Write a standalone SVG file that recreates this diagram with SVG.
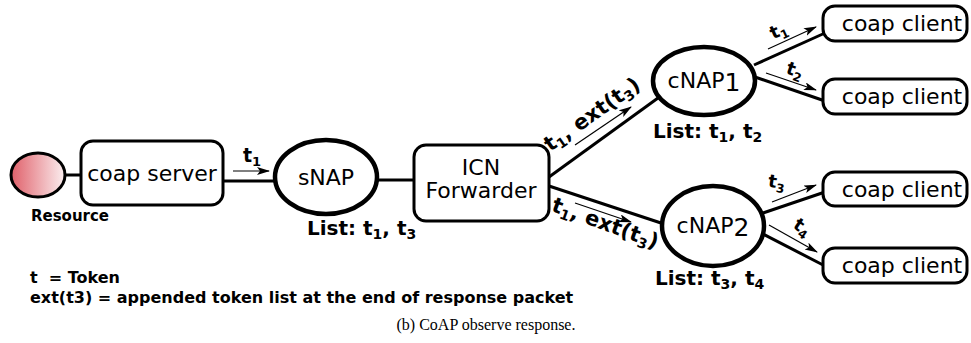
<svg xmlns="http://www.w3.org/2000/svg" width="971" height="343" viewBox="0 0 971 343">
<style>
.box{fill:#fff;stroke:#000;stroke-width:3}
.ell{fill:#fff;stroke:#000;stroke-width:4.5}
.lbl{font-family:"DejaVu Sans",sans-serif;font-size:22px;fill:#000;text-anchor:middle}
.b{font-family:"DejaVu Sans",sans-serif;font-weight:bold;fill:#000}
.conn line{stroke:#000;stroke-width:3}
.arr line{stroke:#000;stroke-width:1.2;marker-end:url(#ah)}
</style>
<defs>
<linearGradient id="rg" x1="0" y1="0" x2="1" y2="0">
<stop offset="0" stop-color="#e0606a"/>
<stop offset="1" stop-color="#fbeff0"/>
</linearGradient>
<marker id="ah" markerUnits="userSpaceOnUse" markerWidth="14" markerHeight="10" refX="12" refY="4" orient="auto">
<path d="M0,0 L13,4 L0,8 L3,4 z" fill="#000"/>
</marker>
</defs>
<rect width="971" height="343" fill="#fff"/>
<g class="conn">
<line x1="65" y1="175" x2="81" y2="175"/>
<line x1="223" y1="181" x2="275" y2="181"/>
<line x1="377" y1="180" x2="414" y2="180"/>
<line x1="549" y1="177" x2="658" y2="98"/>
<line x1="549" y1="186" x2="661" y2="223"/>
<line x1="754" y1="65" x2="825" y2="33"/>
<line x1="755" y1="77" x2="825" y2="101"/>
<line x1="763" y1="213" x2="825" y2="192"/>
<line x1="761" y1="233" x2="825" y2="266"/>
</g>
<g class="arr">
<line x1="233" y1="171" x2="269" y2="171"/>
<line x1="575" y1="145" x2="631" y2="107"/>
<line x1="575" y1="203" x2="631" y2="222"/>
<line x1="768" y1="49" x2="816" y2="27"/>
<line x1="766" y1="73" x2="816" y2="90"/>
<line x1="772" y1="202" x2="816" y2="185"/>
<line x1="769" y1="225" x2="817" y2="252"/>
</g>
<g id="resource">
<ellipse cx="38" cy="175" rx="27" ry="22" fill="url(#rg)" stroke="#000" stroke-width="3"/>
<text class="b" x="70" y="221" font-size="15" text-anchor="middle">Resource</text>
</g>
<g id="coap-server">
<rect class="box" x="81" y="141" width="142" height="64" rx="12"/>
<text class="lbl" x="152" y="181">coap server</text>
</g>
<g id="snap">
<ellipse class="ell" cx="326" cy="177" rx="51" ry="37"/>
<text class="lbl" x="326" y="185">sNAP</text>
<text class="b" x="307" y="235" font-size="20">List: t<tspan font-size="14" dy="4">1</tspan><tspan dy="-4">, t</tspan><tspan font-size="14" dy="4">3</tspan></text>
</g>
<g id="icn-forwarder">
<rect class="box" x="414" y="145" width="135" height="76" rx="12"/>
<text class="lbl" x="481" y="175">ICN</text>
<text class="lbl" x="481" y="198">Forwarder</text>
</g>
<g id="cnap1">
<ellipse class="ell" cx="704" cy="81" rx="51" ry="34"/>
<text class="lbl" x="704" y="88">cNAP<tspan font-size="25" dy="3">1</tspan></text>
<text class="b" x="653" y="138" font-size="20">List: t<tspan font-size="14" dy="4">1</tspan><tspan dy="-4">, t</tspan><tspan font-size="14" dy="4">2</tspan></text>
</g>
<g id="cnap2">
<ellipse class="ell" cx="713" cy="226" rx="51" ry="40"/>
<text class="lbl" x="713" y="233">cNAP<tspan font-size="25" dy="3">2</tspan></text>
<text class="b" x="655" y="285" font-size="20">List: t<tspan font-size="14" dy="4">3</tspan><tspan dy="-4">, t</tspan><tspan font-size="14" dy="4">4</tspan></text>
</g>
<g id="client1">
<rect class="box" x="823" y="6" width="144" height="35" rx="12"/>
<text class="lbl" x="902" y="31">coap client</text>
</g>
<g id="client2">
<rect class="box" x="823" y="79" width="144" height="35" rx="12"/>
<text class="lbl" x="902" y="104">coap client</text>
</g>
<g id="client3">
<rect class="box" x="823" y="172" width="144" height="34" rx="12"/>
<text class="lbl" x="902" y="197">coap client</text>
</g>
<g id="client4">
<rect class="box" x="823" y="248" width="144" height="35" rx="12"/>
<text class="lbl" x="902" y="273">coap client</text>
</g>
<g id="edge-labels">
<text class="b" x="243" y="162" font-size="19">t<tspan font-size="13" dy="4">1</tspan></text>
<text class="b" font-size="21" text-anchor="middle" transform="translate(596,120) rotate(-35)">t<tspan font-size="14" dy="4">1</tspan><tspan dy="-4">, ext(t</tspan><tspan font-size="14" dy="4">3</tspan><tspan dy="-4">)</tspan></text>
<text class="b" font-size="21" text-anchor="middle" transform="translate(603,230) rotate(20)">t<tspan font-size="14" dy="4">1</tspan><tspan dy="-4">, ext(t</tspan><tspan font-size="14" dy="4">3</tspan><tspan dy="-4">)</tspan></text>
<text class="b" font-size="18" text-anchor="middle" transform="translate(781,36) rotate(-25)">t<tspan font-size="12" dy="4">1</tspan></text>
<text class="b" font-size="18" text-anchor="middle" transform="translate(793,76) rotate(20)">t<tspan font-size="12" dy="4">2</tspan></text>
<text class="b" font-size="18" text-anchor="middle" transform="translate(776,188) rotate(8)">t<tspan font-size="12" dy="4">3</tspan></text>
<text class="b" font-size="18" text-anchor="middle" transform="translate(799,232) rotate(35)">t<tspan font-size="12" dy="4">4</tspan></text>
</g>
<g id="legend">
<text class="b" x="30" y="283" font-size="16" xml:space="preserve">t  = Token</text>
<text class="b" x="30" y="303" font-size="16">ext(t3) = appended token list at the end of response packet</text>
</g>
<text x="486" y="330" font-family="'Liberation Serif',serif" font-size="16" text-anchor="middle">(b) CoAP observe response.</text>
</svg>
